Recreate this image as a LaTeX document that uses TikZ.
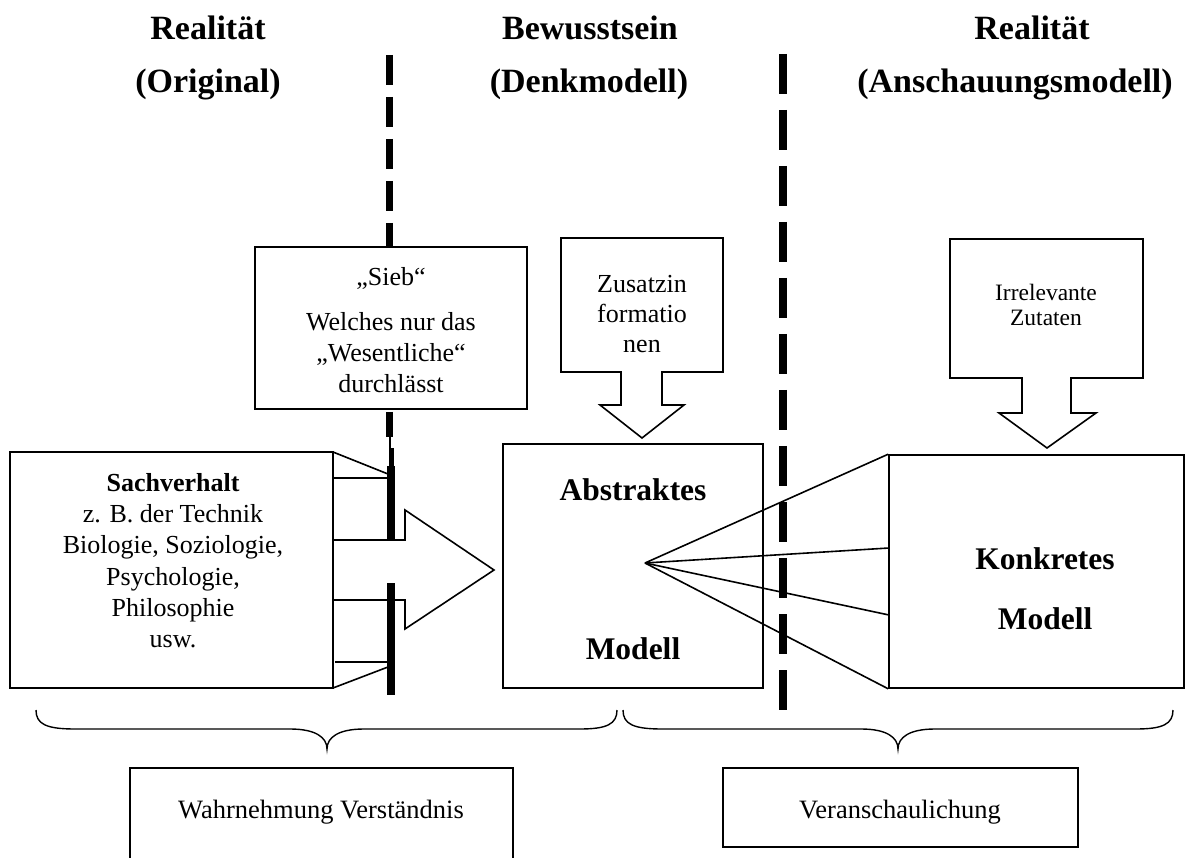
\documentclass[tikz,border=0pt]{standalone}
\usepackage{fontspec}
\setmainfont{Liberation Serif}
\newcommand\fbody{\fontsize{26}{31}\selectfont}
\newcommand\fsmall{\fontsize{23.5}{25}\selectfont}
\newcommand\fbot{\fontsize{26.5}{30}\selectfont}
\newcommand\fbig{\fontsize{31.5}{36}\selectfont\bfseries}
\newcommand\fhead{\fontsize{34}{38}\selectfont\bfseries}
\begin{document}
\begin{tikzpicture}[x=1pt,y=-1pt,
  box/.style={draw, line width=1.6pt},
  ln/.style={line width=1.6pt, line join=miter},
  t/.style={inner sep=0pt, anchor=base, font=\fbody},
  ts/.style={inner sep=0pt, anchor=base, font=\fsmall},
  tb/.style={inner sep=0pt, anchor=base, font=\fbot},
  tbig/.style={inner sep=0pt, anchor=base, font=\fbig},
  thead/.style={inner sep=0pt, anchor=base, font=\fhead},
  bar/.style={line width=8pt}]
\useasboundingbox (0,0) rectangle (1187,858);
\fill[white] (0,0) rectangle (1187,858);

% headings
\node[thead] (h1a) at (208,40) {Realität};
\node[thead] (h1b) at (208,93) {(Original)};
\node[thead] (h2a) at (590,40) {Bewusstsein};
\node[thead] (h2b) at (589,93) {(Denkmodell)};
\node[thead] (h3a) at (1032,40) {Realität};
\node[thead] (h3b) at (1015,93) {(Anschauungsmodell)};

% left dashed separator (sieve)
\draw[line width=7pt, dash pattern=on 30pt off 12pt] (389,55) -- (389,250);
\draw[line width=7pt] (389,412) -- (389,437);
\draw[line width=2pt] (390,436) -- (390,449);
\draw[line width=5pt] (391,448) -- (391,467);

% right dashed separator
\draw[line width=8pt, dash pattern=on 40pt off 16pt] (782.5,54) -- (782.5,711);

% Sieb box
\node[box, fill=white, minimum width=272pt, minimum height=162pt] (sieb) at (391,328) {};
\node[t] (s1) at (391,286) {„Sieb“};
\node[t] (s2) at (391,331) {Welches nur das};
\node[t] (s3) at (391,362) {„Wesentliche“};
\node[t] (s4) at (391,393) {durchlässt};

% Sachverhalt box with arrow
\node[box, minimum width=323pt, minimum height=236pt] (sach) at (171.5,570) {};
\draw[ln] (333,452) -- (388,474);
\draw[ln] (333,478) -- (388,478);
\draw[ln] (333,452) -- (333,688);
\draw[ln] (333,540) -- (405,540) -- (405,510) -- (494,570) -- (405,629) -- (405,600) -- (333,600);
\draw[ln] (335,662) -- (388,662);
\draw[ln] (333,688) -- (388,667);
\draw[bar] (391,466) -- (391,540);
\draw[bar] (391,583) -- (391,695);
\node[t, font=\fbody\bfseries] (l1) at (173,492) {Sachverhalt};
\node[t] (l2) at (173,523) {z. B. der Technik};
\node[t] (l3) at (173,554) {Biologie, Soziologie,};
\node[t] (l4) at (173,585) {Psychologie,};
\node[t] (l5) at (173,616) {Philosophie};
\node[t] (l6) at (173,647) {usw.};

% Zusatzinformationen callout
\draw[ln] (561,238) -- (723,238) -- (723,372) -- (662,372) -- (662,405) -- (684,405)
  -- (642,438) -- (600,405) -- (621,405) -- (621,372) -- (561,372) -- cycle;
\node[t] (z1) at (642,293) {Zusatzin};
\node[t] (z2) at (642,323) {formatio};
\node[t] (z3) at (642,353) {nen};

% Irrelevante Zutaten callout
\draw[ln] (950,239) -- (1143,239) -- (1143,378) -- (1071,378) -- (1071,413) -- (1096,413)
  -- (1047,448) -- (999,413) -- (1022,413) -- (1022,378) -- (950,378) -- cycle;
\node[ts] (i1) at (1046,301) {Irrelevante};
\node[ts] (i2) at (1046,326) {Zutaten};

% Abstraktes Modell
\node[box, minimum width=260pt, minimum height=244pt] (abs) at (633,566) {};
\node[tbig] (a1) at (633,501) {Abstraktes};
\node[tbig] (a2) at (633,659) {Modell};

% Konkretes Modell
\node[box, minimum width=295pt, minimum height=233pt] (kon) at (1036.5,571.5) {};
\node[tbig] (k1) at (1045,569) {Konkretes};
\node[tbig] (k2) at (1045,629) {Modell};

% fan
\coordinate (apex) at (645,563);
\coordinate (f2) at (889,548);
\coordinate (f3) at (889,615);
\draw[ln] (apex) -- (kon.north west);
\draw[ln] (apex) -- (f2);
\draw[ln] (apex) -- (f3);
\draw[ln] (apex) -- (kon.south west);

% braces
\draw[line width=1.4pt] (36,710) .. controls (36,724) and (46,729) .. (75,729)
  -- (290,729) .. controls (315,729) and (327,737) .. (327,749)
  .. controls (327,737) and (339,729) .. (364,729) -- (580,729)
  .. controls (607,729) and (617,724) .. (617,710);
\draw[line width=1.4pt] (623,710) .. controls (623,724) and (633,729) .. (662,729)
  -- (861,729) .. controls (886,729) and (898,737) .. (898,749)
  .. controls (898,737) and (910,729) .. (935,729) -- (1136,729)
  .. controls (1163,729) and (1173,724) .. (1173,710);

% bottom boxes
\draw[ln] (130,862) -- (130,768) -- (513,768) -- (513,862);
\node[tb] (b1) at (321,818) {Wahrnehmung Verständnis};
\node[box, minimum width=355pt, minimum height=79pt] (vb) at (900.5,807.5) {};
\node[tb] (b2) at (900,818) {Veranschaulichung};
\end{tikzpicture}
\end{document}
